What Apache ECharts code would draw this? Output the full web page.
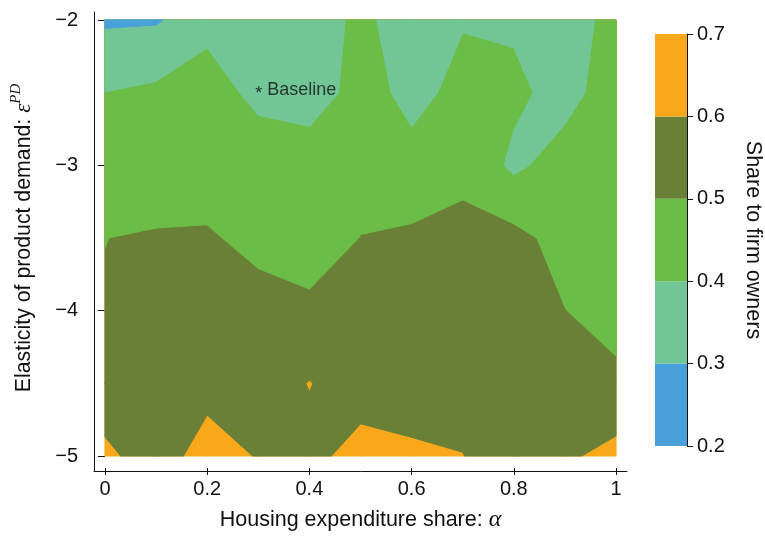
<!DOCTYPE html>
<html>
<head>
<meta charset="utf-8">
<script src="https://cdn.jsdelivr.net/npm/echarts@6/dist/echarts.min.js"></script>
<style>
  html, body { margin: 0; padding: 0; background: #fff; }
  #chart { width: 765px; height: 537px; }
</style>
</head>
<body>
<div id="chart"></div>
<script>
// Grid nodes: housing expenditure share (alpha) and elasticity of product demand
const alphaValues = [0, 0.1, 0.2, 0.3, 0.4, 0.5, 0.6, 0.7, 0.8, 0.9, 1];
const elasticityValues = [-5, -4.5, -4, -3.5, -3, -2.5, -2];

// Share to firm owners, one row per elasticity value (alpha = 0 ... 1)
const shareEpsMinus5_0 = [0.630, 0.533, 0.659, 0.593, 0.570, 0.640, 0.630, 0.6017, 0.560, 0.586, 0.629];
const shareEpsMinus4_5 = [0.518, 0.550, 0.555, 0.550, 0.604, 0.550, 0.514, 0.570, 0.560, 0.540, 0.5245];
const shareEpsMinus4_0 = [0.5037, 0.530, 0.540, 0.532, 0.515, 0.530, 0.540, 0.550, 0.550, 0.502, 0.460];
const shareEpsMinus3_5 = [0.4994, 0.508, 0.510, 0.477, 0.465, 0.5015, 0.5165, 0.521, 0.529, 0.465, 0.470];
const shareEpsMinus3_0 = [0.450, 0.450, 0.455, 0.482, 0.469, 0.470, 0.434, 0.481, 0.381, 0.444, 0.470];
const shareEpsMinus2_5 = [0.401, 0.420, 0.465, 0.363, 0.340, 0.445, 0.370, 0.429, 0.421, 0.366, 0.453];
const shareEpsMinus2_0 = [0.287, 0.291, 0.360, 0.350, 0.330, 0.430, 0.336, 0.394, 0.387, 0.350, 0.436];

// Contour cut points and tick labels
const contourLevels = [0.2, 0.3, 0.4, 0.5, 0.6, 0.7];
const alphaTicks = [0, 0.2, 0.4, 0.6, 0.8, 1];
const elasticityTicks = [-5, -4, -3, -2];
const shareTicks = [0.2, 0.3, 0.4, 0.5, 0.6, 0.7];

// Marked calibration point
const baselinePoint = [0.3, -2.5];
const baselineLabel = 'Baseline';

// ---------------------------------------------------------------------------
const shareGrid = [shareEpsMinus5_0, shareEpsMinus4_5, shareEpsMinus4_0, shareEpsMinus3_5,
                   shareEpsMinus3_0, shareEpsMinus2_5, shareEpsMinus2_0];

// band i covers [contourLevels[i], contourLevels[i+1])
const bandColors = ['#4aa0d9', '#72c695', '#6bbd47', '#6a8037', '#f9a71b'];

const SANS = '"Liberation Sans", Arial, Helvetica, sans-serif';
const SERIF = '"Liberation Serif", "DejaVu Serif", serif';
const INK = '#111';

// Keep the part of a cell polygon where share < level (linear along edges)
function clipBelow(poly, level) {
  const out = [];
  for (let i = 0; i < poly.length; i++) {
    const a = poly[i], b = poly[(i + 1) % poly.length];
    const aIn = a.z < level, bIn = b.z < level;
    if (aIn) out.push(a);
    if (aIn !== bIn) {
      const t = (level - a.z) / (b.z - a.z);
      out.push({ x: a.x + t * (b.x - a.x), y: a.y + t * (b.y - a.y), z: level });
    }
  }
  return out;
}

// Paint highest band over every cell, then successively lower sub-level sets on top
const cellPieces = [];
for (let k = bandColors.length - 1; k >= 0; k--) {
  for (let r = 0; r < elasticityValues.length - 1; r++) {
    for (let c = 0; c < alphaValues.length - 1; c++) {
      cellPieces.push([alphaValues[c], elasticityValues[r], c, r, k]);
    }
  }
}

function renderCell(params, api) {
  const c = api.value(2), r = api.value(3), k = api.value(4);
  const quad = [
    { x: alphaValues[c],     y: elasticityValues[r],     z: shareGrid[r][c] },
    { x: alphaValues[c + 1], y: elasticityValues[r],     z: shareGrid[r][c + 1] },
    { x: alphaValues[c + 1], y: elasticityValues[r + 1], z: shareGrid[r + 1][c + 1] },
    { x: alphaValues[c],     y: elasticityValues[r + 1], z: shareGrid[r + 1][c] }
  ];
  const poly = clipBelow(quad, contourLevels[k + 1]);
  if (poly.length < 3) return null;
  const color = bandColors[k];
  return {
    type: 'polygon',
    shape: { points: poly.map(p => api.coord([p.x, p.y])) },
    style: { fill: color, stroke: color, lineWidth: 1.1, lineJoin: 'round' }
  };
}

// Colour key rectangles
const keyPieces = bandColors.map((col, i) => [0, contourLevels[i], contourLevels[i + 1], i]);
function renderKey(params, api) {
  const i = api.value(3);
  const p1 = api.coord([0, api.value(2)]);
  const p2 = api.coord([1, api.value(1)]);
  return {
    type: 'rect',
    shape: { x: p1[0], y: p1[1], width: p2[0] - p1[0], height: p2[1] - p1[1] },
    style: { fill: bandColors[i] }
  };
}

const minusFmt = v => (v < 0 ? '\u2212' : '') + Math.abs(v);

const chart = echarts.init(document.getElementById('chart'), null, { renderer: 'canvas' });
chart.setOption({
  animation: false,
  backgroundColor: '#fff',
  grid: [
    { left: 105, top: 20, width: 511, height: 439 },   // contour area
    { left: 94, top: 12, width: 533, height: 459 },    // axis frame
    { left: 655, top: 34, width: 33, height: 412 }     // colour key
  ],
  xAxis: [
    {
      gridIndex: 0, type: 'value', min: 0, max: 1, offset: 12,
      axisLine: { show: false },
      axisTick: { show: true, length: 7, lineStyle: { color: INK, width: 1 }, customValues: alphaTicks },
      axisLabel: { color: INK, fontSize: 20, fontFamily: SANS, margin: 11, customValues: alphaTicks },
      splitLine: { show: false },
      name: '{t|Housing expenditure share: }{m|\u03b1}',
      nameLocation: 'middle', nameGap: 40,
      nameTextStyle: {
        rich: {
          t: { fontSize: 21.5, fontFamily: SANS, color: INK },
          m: { fontSize: 24, fontFamily: SERIF, fontStyle: 'italic', color: INK }
        }
      }
    },
    {
      gridIndex: 1, type: 'value', min: 0, max: 1,
      axisLine: { show: true, onZero: false, lineStyle: { color: INK, width: 1 } },
      axisTick: { show: false }, axisLabel: { show: false }, splitLine: { show: false }
    },
    {
      gridIndex: 2, type: 'value', min: 0, max: 1, show: false,
      axisLine: { show: false }, axisTick: { show: false }, axisLabel: { show: false }, splitLine: { show: false }
    }
  ],
  yAxis: [
    {
      gridIndex: 0, type: 'value', min: -5, max: -2, offset: 11,
      axisLine: { show: false },
      axisTick: { show: true, length: 7, lineStyle: { color: INK, width: 1 }, customValues: elasticityTicks },
      axisLabel: { color: INK, fontSize: 20, fontFamily: SANS, margin: 16, formatter: minusFmt, customValues: elasticityTicks },
      splitLine: { show: false },
      name: '{t|Elasticity of product demand: }{m|\u03b5}{s|PD}',
      nameLocation: 'middle', nameGap: 55,
      nameTextStyle: {
        rich: {
          t: { fontSize: 21.3, fontFamily: SANS, color: INK },
          m: { fontSize: 23, fontFamily: SERIF, fontStyle: 'italic', color: INK },
          s: { fontSize: 15, fontFamily: SERIF, fontStyle: 'italic', color: INK, padding: [0, 0, 15, 0] }
        }
      }
    },
    {
      gridIndex: 1, type: 'value', min: 0, max: 1,
      axisLine: { show: true, onZero: false, lineStyle: { color: INK, width: 1 } },
      axisTick: { show: false }, axisLabel: { show: false }, splitLine: { show: false }
    },
    {
      gridIndex: 2, type: 'value', min: 0.2, max: 0.7, position: 'right',
      axisLine: { show: true, onZero: false, lineStyle: { color: INK, width: 1 } },
      axisTick: { show: true, length: 6, lineStyle: { color: INK, width: 1 }, customValues: shareTicks },
      axisLabel: { color: INK, fontSize: 20, fontFamily: SANS, margin: 10, customValues: shareTicks },
      splitLine: { show: false },
      name: 'Share to firm owners', nameLocation: 'middle', nameRotate: -90, nameGap: 55,
      nameTextStyle: { fontSize: 21.5, fontFamily: SANS, color: INK }
    }
  ],
  series: [
    {
      type: 'custom', xAxisIndex: 0, yAxisIndex: 0, silent: true,
      renderItem: renderCell, data: cellPieces, z: 1
    },
    {
      type: 'scatter', xAxisIndex: 0, yAxisIndex: 0, silent: true, z: 5,
      symbolSize: 0,
      data: [baselinePoint],
      label: {
        show: true, position: [-3, -3], align: 'left', verticalAlign: 'middle',
        formatter: '{a|*} ' + baselineLabel,
        fontSize: 18, fontFamily: SANS, color: INK,
        rich: { a: { fontSize: 18, fontFamily: SANS, color: INK, padding: [9, 0, 0, 0] } }
      }
    },
    {
      type: 'custom', xAxisIndex: 2, yAxisIndex: 2, silent: true,
      renderItem: renderKey, data: keyPieces
    }
  ]
});
</script>
</body>
</html>
